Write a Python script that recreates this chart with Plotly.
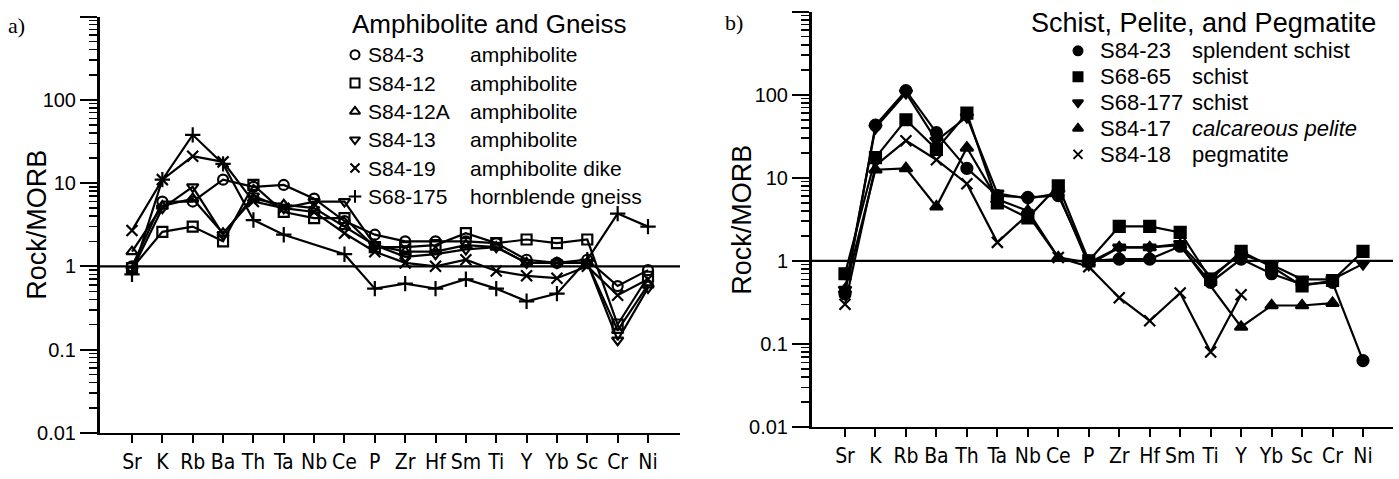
import plotly.graph_objects as go

W, H = 1399, 479

elements = ["Sr", "K", "Rb", "Ba", "Th", "Ta", "Nb", "Ce", "P", "Zr",
            "Hf", "Sm", "Ti", "Y", "Yb", "Sc", "Cr", "Ni"]

# ---- Panel a) Amphibolite and Gneiss ----
s84_3 = [1.0, 6.0, 6.0, 11.0, 9.0, 9.5, 6.5, 3.5, 2.4, 2.0, 2.0, 2.0, 1.9, 1.2, 1.1, 1.2, 0.58, 0.9]
s84_12 = [0.95, 2.6, 3.0, 2.0, 9.5, 4.5, 3.8, 3.8, 1.7, 1.7, 1.8, 2.5, 1.9, 2.1, 1.9, 2.1, 0.2, 0.75]
s84_12a = [1.5, 5.3, 6.5, 2.5, 6.5, 5.5, 5.0, 3.0, 1.8, 1.5, 1.5, 1.8, 1.7, 1.1, 1.1, 1.1, 0.17, 0.6]
s84_13 = [0.9, 5.0, 9.0, 2.4, 7.0, 5.0, 6.0, 6.0, 1.8, 1.3, 1.4, 1.6, 1.7, 1.1, 1.1, 1.1, 0.13, 0.55]
s84_19 = [2.7, 11.0, 21.0, 18.0, 6.0, 5.0, 4.5, 2.5, 1.5, 1.1, 1.0, 1.2, 0.88, 0.77, 0.72, 1.0, 0.45, 0.7]
s68_175 = [0.8, 11.0, 38.0, 17.0, 3.6, 2.4, None, 1.4, 0.54, 0.62, 0.54, 0.7, 0.54, 0.38, 0.47, 1.2, 4.3, 3.0]

names_a = ["S84-3", "S84-12", "S84-12A", "S84-13", "S84-19", "S68-175"]
desc_a = ["amphibolite", "amphibolite", "amphibolite", "amphibolite",
          "amphibolite dike", "hornblende gneiss"]
series_a = [s84_3, s84_12, s84_12a, s84_13, s84_19, s68_175]
symbols_a = ["circle-open", "square-open", "triangle-up-open", "triangle-down-open",
             "x-thin-open", "cross-thin-open"]
title_a = "Amphibolite and Gneiss"

# ---- Panel b) Schist, Pelite, and Pegmatite ----
s84_23 = [0.4, 43.0, 112.0, 35.0, 13.0, 6.1, 5.8, 6.1, 1.0, 1.05, 1.05, 1.5, 0.55, 1.05, 0.7, 0.52, 0.55, 0.063]
s68_65 = [0.7, 17.5, 50.0, 22.0, 60.0, 5.0, 3.3, 8.0, 1.0, 2.6, 2.6, 2.2, 0.6, 1.3, 0.85, 0.5, 0.58, 1.3]
s68_177 = [0.45, 40.0, 105.0, 28.0, 54.0, 6.5, 5.6, 6.5, 0.9, 1.45, 1.45, 1.6, 0.65, 1.2, 0.9, 0.6, 0.6, 0.92]
s84_17 = [0.45, 12.5, 13.0, 4.5, 23.0, 5.5, 4.0, 1.1, 0.95, 1.45, 1.45, 1.55, None, 0.16, 0.29, 0.29, 0.31, None]
s84_18 = [0.3, 14.0, 28.0, 16.5, 8.5, 1.67, 3.6, 1.1, 0.85, 0.36, 0.19, 0.41, 0.08, 0.39, None, None, None, None]

names_b = ["S84-23", "S68-65", "S68-177", "S84-17", "S84-18"]
desc_b = ["splendent schist", "schist", "schist", "calcareous pelite", "pegmatite"]
series_b = [s84_23, s68_65, s68_177, s84_17, s84_18]
symbols_b = ["circle", "square", "triangle-down", "triangle-up", "x-thin-open"]
title_b = "Schist, Pelite, and Pegmatite"

ytick_vals = [0.01, 0.1, 1, 10, 100, 1000]
ytick_text = ["0.01", "0.1", "1", "10", "100", ""]
minor_vals = [m * 10 ** e for e in range(-2, 3) for m in range(2, 10)]

# ---- layout geometry (pixels) ----
panels = [
    dict(ax_left=100, sr=132, ni=648, ax_right=680, top=17, bottom=443),
    dict(ax_left=812, sr=845, ni=1363, ax_right=1393, top=12, bottom=437),
]

FONT = "Liberation Sans, Arial, sans-serif"
NARROW = "Liberation Sans Narrow, DejaVu Sans Condensed, Arial Narrow, sans-serif"

fig = go.Figure()
xidx = list(range(len(elements)))

def add_series(series, symbols, names, xa, ya, filled):
    for vals, sym, nm in zip(series, symbols, names):
        msize = 10 if not filled else 11
        if sym.startswith("x") or sym.startswith("cross"):
            msize = 11
        fig.add_trace(go.Scatter(
            x=xidx, y=vals, mode="lines+markers", name=nm, connectgaps=True,
            xaxis=xa, yaxis=ya, showlegend=False,
            line=dict(color="black", width=2.2),
            marker=dict(symbol=sym, size=msize, color="black",
                        line=dict(color="black", width=2.2)),
        ))

add_series(series_a, symbols_a, names_a, "x", "y", False)
add_series(series_b, symbols_b, names_b, "x2", "y2", True)

layout = dict(width=W, height=H, autosize=False,
              margin=dict(l=0, r=0, t=0, b=0, pad=0),
              paper_bgcolor="white", plot_bgcolor="rgba(0,0,0,0)",
              showlegend=False)

for i, p in enumerate(panels):
    sfx = "" if i == 0 else "2"
    step = (p["ni"] - p["sr"]) / (len(elements) - 1)
    x0 = (p["ax_left"] - p["sr"]) / step
    x1 = (p["ax_right"] - p["sr"]) / step
    layout["xaxis" + sfx] = dict(
        domain=[p["ax_left"] / W, p["ax_right"] / W],
        range=[x0, x1], tickmode="array", tickvals=xidx, ticktext=elements,
        ticks="outside", ticklen=8, tickwidth=2, tickcolor="black",
        showline=True, linewidth=2.5, linecolor="black",
        showgrid=False, zeroline=False, anchor="y" + sfx, fixedrange=True,
        tickfont=dict(family=NARROW, size=21, color="black"),
    )
    layout["yaxis" + sfx] = dict(
        domain=[(H - p["bottom"]) / H, (H - p["top"]) / H],
        type="log", range=[-2, 3], tickmode="array",
        tickvals=ytick_vals, ticktext=ytick_text,
        ticks="outside", ticklen=17, tickwidth=2, tickcolor="black",
        minor=dict(ticks="outside", ticklen=8, tickwidth=1.5, tickcolor="black",
                   tickmode="array", tickvals=minor_vals, showgrid=False),
        showline=True, linewidth=3, linecolor="black",
        showgrid=False, zeroline=False, anchor="x" + sfx, fixedrange=True,
        tickfont=dict(family=FONT, size=20, color="black"),
    )

# overlay axis for legend keys (pixel space)
layout["xaxis3"] = dict(domain=[0, 1], range=[0, W], visible=False, anchor="y3", fixedrange=True)
layout["yaxis3"] = dict(domain=[0, 1], range=[H, 0], visible=False, anchor="x3", fixedrange=True)
fig.update_layout(**layout)

# reference line at Rock/MORB = 1
for sfx in ["", "2"]:
    fig.add_shape(type="line", xref=("x" + sfx) + " domain", yref="y" + sfx,
                  x0=0, x1=1, y0=1, y1=1, line=dict(color="black", width=2.2))

annotations = []

def txt(x, y, s, size, family=FONT, xanchor="left", angle=0, italic=False):
    if italic:
        s = "<i>" + s + "</i>"
    annotations.append(dict(x=x / W, y=1 - y / H, xref="paper", yref="paper",
                            text=s, showarrow=False, xanchor=xanchor, yanchor="middle",
                            textangle=angle, borderpad=0,
                            font=dict(family=family, size=size, color="black")))

# panel letters
txt(7, 26, "a)", 22, family="Liberation Serif, Times New Roman, serif")
txt(724, 23, "b)", 22, family="Liberation Serif, Times New Roman, serif")

# y titles
txt(37, 230, "Rock/MORB", 27, xanchor="center", angle=-90)
txt(742, 225, "Rock/MORB", 27, xanchor="center", angle=-90)

# legends
leg = [
    dict(title=title_a, tx=351, ty=25, tsize=26, rsize=21, names=names_a, desc=desc_a,
         syms=symbols_a, symx=355, namex=367, descx=469, row0=56, step=29, italic_idx=None),
    dict(title=title_b, tx=1030, ty=24, tsize=27, rsize=22, names=names_b, desc=desc_b,
         syms=symbols_b, symx=1078, namex=1099, descx=1191, row0=52, step=26.5, italic_idx=3),
]
for L in leg:
    txt(L["tx"], L["ty"], L["title"], L["tsize"])
    ys = [L["row0"] + k * L["step"] for k in range(len(L["names"]))]
    for k, (nm, ds) in enumerate(zip(L["names"], L["desc"])):
        txt(L["namex"], ys[k], nm, L["rsize"])
        txt(L["descx"], ys[k], ds, L["rsize"], italic=(L["italic_idx"] == k))
    fig.add_trace(go.Scatter(
        x=[L["symx"]] * len(ys), y=ys, mode="markers", xaxis="x3", yaxis="y3",
        showlegend=False, hoverinfo="skip",
        marker=dict(symbol=L["syms"], size=9, color="black",
                    line=dict(color="black", width=2)),
    ))

fig.update_layout(annotations=annotations)
fig.write_html("out.html", config={"displayModeBar": False, "staticPlot": True},
               post_script="document.body.style.margin='0px';document.body.style.padding='0px';")
